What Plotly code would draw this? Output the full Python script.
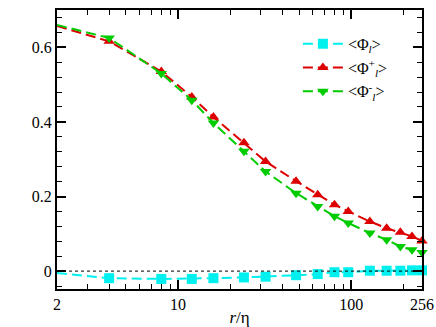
import numpy as np
import plotly.graph_objects as go

# r/eta separations
r_eta = [2, 4, 8, 12, 16, 24, 32, 48, 64, 80, 96, 128, 160, 192, 224, 256]

phi = [-0.005, -0.019, -0.021, -0.021, -0.019, -0.017, -0.015, -0.011, -0.008,
       -0.003, -0.003, 0.001, 0.001, 0.001, 0.002, 0.002]
phi_plus = [0.657, 0.616, 0.535, 0.467, 0.413, 0.344, 0.294, 0.241, 0.205,
            0.178, 0.160, 0.133, 0.115, 0.104, 0.093, 0.081]
phi_minus = [0.660, 0.625, 0.530, 0.458, 0.397, 0.321, 0.267, 0.209, 0.173,
             0.147, 0.129, 0.102, 0.084, 0.066, 0.057, 0.050]

x_ticks = [2, 10, 100, 256]
x_minor = [3, 4, 5, 6, 7, 8, 9, 20, 30, 40, 50, 60, 70, 80, 90, 200]
y_ticks = [0, 0.2, 0.4, 0.6]

font = "Liberation Serif, Times New Roman, serif"

series = [
    ("&lt;Φ<sub><i>l</i></sub>&gt;", phi, "#00f0f0", "square"),
    ("&lt;Φ<sup>+</sup><sub><i>l</i></sub>&gt;", phi_plus, "#dd0000", "triangle-up"),
    ("&lt;Φ<sup>-</sup><sub><i>l</i></sub>&gt;", phi_minus, "#00cc00", "triangle-down"),
]

fig = go.Figure()
fig.add_hline(y=0, line={"color": "black", "width": 1, "dash": "dot"})
for name, vals, color, sym in series:
    fig.add_trace(go.Scatter(
        x=r_eta,
        y=vals,
        mode="lines+markers",
        name=name,
        line={"color": color, "width": 2, "dash": "10px,5px"},
        marker={"symbol": sym, "size": 10, "color": color, "line": {"width": 0}},
        cliponaxis=False,
    ))

axis_common = dict(
    showline=True, linecolor="black", linewidth=2, mirror="ticks",
    ticks="inside", tickcolor="black", tickwidth=1.5, ticklen=9,
    showgrid=False, zeroline=False, automargin=False,
    tickfont={"family": font, "size": 16, "color": "black"},
)
fig.update_xaxes(
    type="log",
    range=[np.log10(2), np.log10(256)],
    tickvals=x_ticks,
    ticktext=[str(v) for v in x_ticks],
    minor={"ticks": "inside", "tickvals": x_minor, "ticklen": 5, "tickcolor": "black", "tickwidth": 1},
    title={"text": "<i>r</i>/η", "font": {"family": font, "size": 17, "color": "black"}, "standoff": 0},
    **axis_common,
)
fig.update_yaxes(
    range=[-0.048, 0.70],
    tickvals=y_ticks,
    ticktext=["0", "0.2", "0.4", "0.6"],
    minor={"ticks": "inside", "dtick": 0.04, "tick0": 0, "ticklen": 5, "tickcolor": "black", "tickwidth": 1},
    **axis_common,
)
fig.update_layout(
    width=436, height=327,
    plot_bgcolor="white", paper_bgcolor="white",
    margin={"l": 57, "r": 14, "t": 10, "b": 38},
    font={"family": font, "size": 17, "color": "black"},
    legend={"x": 0.66, "y": 0.94, "xanchor": "left", "yanchor": "top",
            "bgcolor": "rgba(0,0,0,0)", "tracegroupgap": 0, "itemwidth": 40,
            "font": {"family": font, "size": 16}},
)
fig.write_html("out.html", config={"displayModeBar": False},
               post_script="document.body.style.margin='0';")
